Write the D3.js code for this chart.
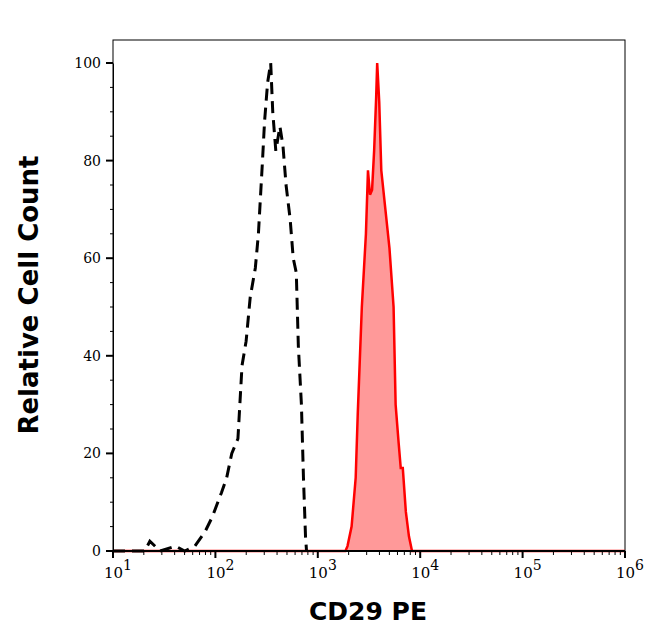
<!DOCTYPE html><html><head><meta charset="utf-8">
<script src="https://cdn.jsdelivr.net/npm/d3@7"></script>
<style>body{margin:0;background:#fff}</style></head><body>
<svg id="c" width="646" height="641"></svg>
<script>
const isoExp=[1.00,1.31,1.36,1.46,1.61,1.70,1.80,1.90,1.97,2.06,2.11,2.16,2.22,2.26,2.30,2.34,2.39,2.42,2.46,2.48,2.51,2.54,2.56,2.59,2.63,2.66,2.69,2.73,2.76,2.79,2.81,2.84,2.86,2.88,2.89,6.0];
const isoCount=[0,0,2,0,1,0,1,4,7,12,15,20,23,38,43,52,58,65,80,88,96,100,90,82,87,83,75,68,60,57,42,30,15,3,0,0];
const cdExp=[1.00,3.27,3.29,3.33,3.37,3.39,3.43,3.47,3.49,3.51,3.53,3.55,3.57,3.58,3.60,3.62,3.66,3.70,3.74,3.76,3.79,3.81,3.83,3.86,3.89,3.92,6.0];
const cdCount=[0,0,1,5,15,28,50,65,78,73,74,82,93,100,92,78,70,62,50,30,22,17,17,8,3,0,0];
const yTicks=[0,20,40,60,80,100];
const xTickExp=[1,2,3,4,5,6];
const svg=d3.select("#c");
const L=113,R=625,T=40,B=551;
const x=d3.scaleLog().domain([10,1e6]).range([L,R]);
const y=d3.scaleLinear().domain([0,100]).range([B,63]);
const iso=isoExp.map((e,i)=>[Math.pow(10,e),isoCount[i]]);
const cd=cdExp.map((e,i)=>[Math.pow(10,e),cdCount[i]]);
svg.append("rect").attr("x",L).attr("y",T).attr("width",R-L).attr("height",B-T).attr("fill","none").attr("stroke","#000");
svg.append("path").datum(cd).attr("d",d3.area().x(d=>x(d[0])).y0(B).y1(d=>y(d[1]))).attr("fill","#ff9999");
svg.append("path").datum(cd).attr("d",d3.line().x(d=>x(d[0])).y(d=>y(d[1]))).attr("fill","none").attr("stroke","#ff0000").attr("stroke-width",2.5);
svg.append("path").datum(iso.filter(d=>d[0]<1e3)).attr("d",d3.line().x(d=>x(d[0])).y(d=>y(d[1]))).attr("fill","none").attr("stroke","#000").attr("stroke-width",3).attr("stroke-dasharray","12,7");
const ya=svg.append("g").attr("transform",`translate(${L},0)`).call(d3.axisLeft(y).tickValues(d3.range(0,101,5)).tickSize(0).tickFormat(""));
ya.select(".domain").attr("stroke","#000");
d3.range(0,101,5).forEach(v=>{const maj=v%20===0;svg.append("line").attr("x1",L).attr("x2",L-(maj?7:3)).attr("y1",y(v)).attr("y2",y(v)).attr("stroke","#000").attr("stroke-width",maj?2:1);});
yTicks.forEach(v=>svg.append("text").attr("x",L-12).attr("y",y(v)+5).attr("text-anchor","end").attr("font-family","DejaVu Serif").attr("font-size",14).text(v));
svg.append("line").attr("x1",L).attr("x2",R).attr("y1",B).attr("y2",B).attr("stroke","#000").attr("stroke-width",2);
for(let d=1;d<=6;d++){for(let m=1;m<10;m++){const v=m*Math.pow(10,d);if(v>1e6)break;const maj=m===1;svg.append("line").attr("x1",x(v)).attr("x2",x(v)).attr("y1",B).attr("y2",B+(maj?7:4)).attr("stroke","#000").attr("stroke-width",maj?2:1);}}
xTickExp.forEach(e=>{const t=svg.append("text").attr("x",x(Math.pow(10,e))-9).attr("y",B+27).attr("font-family","DejaVu Serif").attr("font-size",15);t.append("tspan").text("10");t.append("tspan").attr("dy",-8).attr("font-size",14).text(e);});
svg.append("text").attr("transform","translate(38,295) rotate(-90)").attr("text-anchor","middle").attr("font-family","DejaVu Sans").attr("font-weight","bold").attr("font-size",26).text("Relative Cell Count");
svg.append("text").attr("x",368).attr("y",620).attr("text-anchor","middle").attr("font-family","DejaVu Sans").attr("font-weight","bold").attr("font-size",25).text("CD29 PE");
</script></body></html>
